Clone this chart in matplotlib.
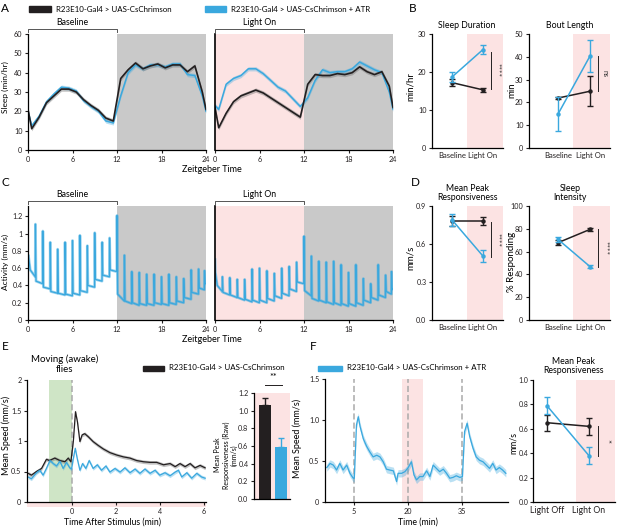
import numpy as np
import matplotlib
matplotlib.use('Agg')
import matplotlib.pyplot as plt
from matplotlib.patches import Rectangle

plt.rcParams['font.family'] = ['Lato', 'DejaVu Sans']
plt.rcParams['axes.linewidth'] = 0.9
plt.rcParams['xtick.major.width'] = 0.8
plt.rcParams['ytick.major.width'] = 0.8
plt.rcParams['xtick.major.size'] = 2.5
plt.rcParams['ytick.major.size'] = 2.5
plt.rcParams['xtick.major.pad'] = 1.5
plt.rcParams['ytick.major.pad'] = 1.5

BLUE = '#3AA8DE'
BLACK = '#231F20'
PINK = '#FCE3E3'
GRAY = '#C9C9C9'
GREEN = '#CFE5C6'

# ---------------- data ----------------
# A: sleep per hour (bin centres + edges)
zt = [0, 0.5, 1.5, 2.5, 3.5, 4.5, 5.5, 6.5, 7.5, 8.5, 9.5, 10.5, 11.5,
      12.5, 13.5, 14.5, 15.5, 16.5, 17.5, 18.5, 19.5, 20.5, 21.5, 22.5, 23.5, 24]
sleep_base_ctrl = [21, 11, 17, 24.5, 28, 31.5, 31.5, 30, 26, 23, 20.5, 16.5, 15,
                   37, 41.5, 45, 42, 43.5, 44.5, 42.5, 44, 44, 40.5, 43.5, 30, 21]
sleep_base_atr = [20, 12.5, 17.5, 25, 29, 32.5, 32, 30.5, 25.5, 22.5, 20, 15, 14,
                  28, 40, 44, 42, 44, 44, 43, 44.5, 44.5, 39, 38.5, 28, 20]
sleep_light_ctrl = [22, 11.5, 19, 25, 28, 29.5, 31, 29.5, 27, 24.5, 22, 19.5, 17,
                    34, 39, 38.5, 38.5, 39.5, 39, 40, 43, 40.5, 39, 40.5, 33, 22]
sleep_light_atr = [23, 21, 34, 37, 38.5, 42, 42, 39.5, 36, 32.5, 30.5, 26.5, 22.5,
                   27, 36, 41.5, 40, 40.5, 40.5, 42, 45.5, 43.5, 41.5, 40, 30, 21]
sleep_sem = 1.1

# B: sleep duration / bout length
groups_b = ['Baseline', 'Light On']
dur_ctrl, dur_ctrl_err = [17.2, 15.3], [0.9, 0.6]
dur_atr, dur_atr_err = [18.7, 25.9], [1.3, 1.2]
bout_ctrl, bout_ctrl_err = [21.9, 24.9], [0.3, 6.6]
bout_atr, bout_atr_err = [14.8, 40.4], [7.5, 7.0]

# C: activity trace, hourly spikes (trough before, peak, value just after)
spike_hours = [1, 2, 3, 4, 5, 6, 7, 8, 9, 10, 11, 12,
               13, 14, 15, 16, 17, 18, 19, 20, 21, 22, 23, 23.8]
act_start_t = [0, 0.05, 0.3]
act_base_start, act_base_end = [0.68, 0.75, 0.58], 0.42
act_base_trough = [0.50, 0.42, 0.36, 0.31, 0.29, 0.28, 0.29, 0.32, 0.38, 0.45, 0.50, 0.56,
                   0.22, 0.19, 0.17, 0.17, 0.17, 0.18, 0.17, 0.18, 0.20, 0.24, 0.30, 0.35]
act_base_peak = [1.11, 1.03, 0.90, 0.82, 0.90, 0.92, 0.98, 0.86, 1.01, 0.90, 0.95, 1.21,
                 0.75, 0.56, 0.55, 0.53, 0.53, 0.50, 0.53, 0.50, 0.48, 0.58, 0.59, 0.57]
act_base_after = [0.45, 0.38, 0.33, 0.31, 0.30, 0.31, 0.34, 0.40, 0.47, 0.52, 0.58, 0.30,
                  0.22, 0.20, 0.19, 0.19, 0.20, 0.19, 0.20, 0.22, 0.26, 0.32, 0.37, 0.42]
act_light_start, act_light_end = [0.70, 0.55, 0.40], 0.36
act_light_trough = [0.33, 0.29, 0.26, 0.23, 0.21, 0.20, 0.20, 0.22, 0.25, 0.28, 0.33, 0.42,
                    0.28, 0.22, 0.20, 0.18, 0.17, 0.16, 0.16, 0.17, 0.20, 0.23, 0.26, 0.30]
act_light_peak = [0.50, 0.49, 0.47, 0.47, 0.59, 0.60, 0.57, 0.54, 0.60, 0.62, 0.67, 0.97,
                  0.74, 0.68, 0.67, 0.68, 0.64, 0.55, 0.64, 0.48, 0.42, 0.64, 0.52, 0.56]
act_light_after = [0.32, 0.29, 0.26, 0.24, 0.23, 0.23, 0.25, 0.28, 0.31, 0.36, 0.44, 0.34,
                   0.25, 0.23, 0.21, 0.20, 0.19, 0.19, 0.20, 0.23, 0.26, 0.29, 0.33, 0.35]

# D: responsiveness / intensity
resp_ctrl, resp_ctrl_err = [0.78, 0.78], [0.04, 0.03]
resp_atr, resp_atr_err = [0.79, 0.505], [0.05, 0.045]
inten_ctrl, inten_ctrl_err = [67.8, 79.5], [2.0, 1.5]
inten_atr, inten_atr_err = [70.8, 46.8], [2.0, 1.5]

# E: moving flies, speed around stimulus
e_t_ctrl = [-1.97, -1.82, -1.59, -1.36, -1.14, -1.0, -0.76, -0.53, -0.3, -0.15, -0.03,
            0.08, 0.18, 0.27, 0.38, 0.48, 0.6, 0.76, 0.98, 1.2, 1.44, 1.74, 2.05, 2.35,
            2.65, 2.95, 3.26, 3.56, 3.86, 4.17, 4.47, 4.7, 4.92, 5.15, 5.38, 5.6, 5.83, 6.06]
e_v_ctrl = [0.47, 0.44, 0.50, 0.55, 0.70, 0.68, 0.72, 0.68, 0.66, 0.72, 0.66,
            0.99, 1.48, 1.31, 0.99, 1.10, 1.12, 1.07, 0.99, 0.93, 0.87, 0.81, 0.77, 0.74,
            0.72, 0.68, 0.66, 0.65, 0.65, 0.61, 0.63, 0.58, 0.63, 0.58, 0.63, 0.56, 0.60, 0.56]
e_t_atr = [-1.97, -1.82, -1.59, -1.44, -1.29, -1.14, -0.98, -0.83, -0.68, -0.53, -0.38,
           -0.23, -0.08, 0.0, 0.08, 0.17, 0.26, 0.38, 0.5, 0.65, 0.8, 0.98, 1.17, 1.36,
           1.56, 1.74, 1.97, 2.2, 2.42, 2.65, 2.88, 3.1, 3.33, 3.56, 3.79, 4.0, 4.24, 4.47,
           4.7, 4.85, 5.0, 5.23, 5.45, 5.68, 5.9, 6.06]
e_v_atr = [0.41, 0.38, 0.48, 0.52, 0.44, 0.55, 0.68, 0.63, 0.59, 0.67, 0.55,
           0.65, 0.56, 0.54, 0.71, 0.88, 0.71, 0.52, 0.63, 0.55, 0.68, 0.55, 0.61, 0.52,
           0.59, 0.49, 0.55, 0.49, 0.56, 0.48, 0.54, 0.47, 0.54, 0.47, 0.52, 0.44, 0.48, 0.43,
           0.49, 0.52, 0.41, 0.48, 0.39, 0.47, 0.41, 0.39]
e_sem = 0.03
bar_vals = [1.06, 0.59]
bar_errs = [0.08, 0.10]

# F: sleeping ATR flies, speed trace
f_t = [-2.5, -1.6, -0.7, 0.2, 1.1, 2.0, 3.0, 3.9, 4.8, 5.1, 5.7, 6.2, 6.7, 7.6, 8.5, 9.4,
       10.3, 11.3, 12.2, 13.1, 14.0, 14.9, 15.9, 16.8, 17.2, 18.2, 19.1, 20.0, 20.9, 21.6,
       22.3, 23.2, 24.1, 25.1, 26.0, 26.9, 27.8, 28.7, 29.7, 30.6, 31.5, 32.4, 33.3, 34.3,
       35.0, 35.6, 36.3, 37.0, 37.9, 38.8, 39.7, 40.7, 41.6, 42.5, 43.4, 44.3, 45.2, 46.1, 47.0]
f_v = [0.42, 0.47, 0.45, 0.39, 0.47, 0.39, 0.45, 0.35, 0.29, 0.29, 0.94, 1.04, 0.92, 0.77,
       0.68, 0.61, 0.55, 0.57, 0.55, 0.49, 0.40, 0.39, 0.38, 0.25, 0.35, 0.35, 0.37, 0.42,
       0.49, 0.33, 0.27, 0.31, 0.31, 0.38, 0.31, 0.45, 0.41, 0.37, 0.40, 0.35, 0.29, 0.30,
       0.32, 0.30, 0.31, 0.86, 0.96, 0.80, 0.66, 0.55, 0.51, 0.49, 0.45, 0.41, 0.47, 0.39,
       0.42, 0.39, 0.35]
f_sem = 0.045
stim_times = [5, 20, 35]
groups_f = ['Light Off', 'Light On']
fresp_ctrl, fresp_ctrl_err = [0.65, 0.62], [0.066, 0.07]
fresp_atr, fresp_atr_err = [0.79, 0.38], [0.072, 0.07]

# ---------------- layout helpers ----------------
W, H = 617, 528
fig = plt.figure(figsize=(W / 100, H / 100), dpi=100)


def add_ax(l, t, r, b):
    return fig.add_axes([l / W, 1 - b / H, (r - l) / W, (b - t) / H])


def ftext(x, y, s, **kw):
    kw.setdefault('ha', 'center')
    kw.setdefault('va', 'center')
    fig.text(x / W, 1 - y / H, s, **kw)


def clean(ax, left=True):
    ax.spines['top'].set_visible(False)
    ax.spines['right'].set_visible(False)
    if not left:
        ax.tick_params(axis='y', left=False, labelleft=False)
    ax.tick_params(labelsize=5.2, colors=BLACK)


def bracket(x0, x1, y, label):
    fig.add_artist(plt.Line2D([x0 / W, x0 / W, x1 / W, x1 / W],
                              [1 - (y + 2.5) / H, 1 - y / H, 1 - y / H, 1 - (y + 2.5) / H],
                              color='#555555', lw=0.7))
    ftext((x0 + x1) / 2, y - 6.5, label, fontsize=6.3)


def legend_patch(x0, x1, y, color, label):
    fig.add_artist(Rectangle((x0 / W, 1 - (y + 2.5) / H), (x1 - x0) / W, 5 / H,
                             color=color, transform=fig.transFigure))
    ftext(x1 + 5, y, label, fontsize=5.7, ha='left')


def paired(ax, xs, ctrl, ctrl_e, atr, atr_e):
    ax.errorbar(xs, ctrl, yerr=ctrl_e, color=BLACK, lw=1.1, marker='o', ms=2.2,
                capsize=2, capthick=1.0, elinewidth=1.0, zorder=3)
    ax.errorbar(xs, atr, yerr=atr_e, color=BLUE, lw=1.1, marker='o', ms=2.2,
                capsize=2, capthick=1.0, elinewidth=1.0, zorder=4)


def sig(ax, x_line, x_txt, y0, y1, txt, size=6):
    ax.plot([x_line, x_line], [y0, y1], color=BLACK, lw=0.7, clip_on=False)
    ax.text(x_txt, (y0 + y1) / 2, txt, rotation=-90, ha='center', va='center',
            fontsize=size, color='#333333', clip_on=False)


def activity(start_t, start_v, hours, trough, peak, after, end):
    t, v = list(start_t), list(start_v)
    for h, a, p, b in zip(hours, trough, peak, after):
        t += [h - 0.02, h, h + 0.08]
        v += [a, p, b]
    t.append(24)
    v.append(end)
    return t, v


# ---------------- A ----------------
a_l = add_ax(28, 34, 206, 150)
a_r = add_ax(215, 34, 393, 150)
for ax, ctrl, atr, light in [(a_l, sleep_base_ctrl, sleep_base_atr, False),
                             (a_r, sleep_light_ctrl, sleep_light_atr, True)]:
    ax.axvspan(12, 24, color=GRAY, lw=0, zorder=0)
    if light:
        ax.axvspan(0, 12, color=PINK, lw=0, zorder=0)
    c = np.array(ctrl)
    b = np.array(atr)
    ax.fill_between(zt, b - sleep_sem, b + sleep_sem, color=BLUE, alpha=0.35, lw=0)
    ax.plot(zt, b, color=BLUE, lw=1.1)
    ax.fill_between(zt, c - sleep_sem, c + sleep_sem, color='#777777', alpha=0.45, lw=0)
    ax.plot(zt, c, color=BLACK, lw=1.2)
    ax.set_xlim(0, 24)
    ax.set_ylim(0, 60)
    ax.set_xticks([0, 6, 12, 18, 24])
    ax.set_yticks([0, 10, 20, 30, 40, 50, 60])
    clean(ax, left=not light)
a_r.spines['left'].set_linewidth(1.2)
ftext(5, 87, 'Sleep (min/hr)', rotation=90, fontsize=6)
ftext(212, 169, 'Zeitgeber Time', fontsize=6.5)
bracket(28, 117, 29, 'Baseline')
bracket(215, 304, 29, 'Light On')
legend_patch(29, 51, 9, BLACK, 'R23E10-Gal4 > UAS-CsChrimson')
legend_patch(205, 226, 9, BLUE, 'R23E10-Gal4 > UAS-CsChrimson + ATR')
ftext(5, 8, 'A', fontsize=8.5)

# ---------------- B ----------------
b1 = add_ax(432, 34, 503, 148)
b2 = add_ax(529, 34, 610, 148)
paired(b1, [0, 1], dur_ctrl, dur_ctrl_err, dur_atr, dur_atr_err)
b1.axvspan(0.48, 1.65, color=PINK, lw=0, zorder=0)
b1.set_xlim(-0.65, 1.65)
b1.set_ylim(0, 30)
b1.set_yticks([0, 10, 20, 30])
sig(b1, 1.26, 1.48, 15.6, 25.3, '****')
paired(b2, [0, 1], bout_ctrl, bout_ctrl_err, bout_atr, bout_atr_err)
b2.axvspan(0.47, 1.62, color=PINK, lw=0, zorder=0)
b2.set_xlim(-0.9, 1.62)
b2.set_ylim(0, 50)
b2.set_yticks([0, 10, 20, 30, 40, 50])
sig(b2, 1.25, 1.47, 24.9, 40.2, 'ns', size=5)
for ax in (b1, b2):
    ax.set_xticks([0, 1])
    ax.set_xticklabels(groups_b)
    clean(ax)
    ax.tick_params(axis='x', length=0, pad=3, labelsize=5.5)
ftext(467, 26, 'Sleep Duration', fontsize=6.3)
ftext(570, 25, 'Bout Length', fontsize=6.3)
ftext(410, 87, 'min/hr', rotation=90, fontsize=7)
ftext(512, 90, 'min', rotation=90, fontsize=7)
ftext(413, 8, 'B', fontsize=8.5)

# ---------------- C ----------------
c_l = add_ax(28, 206, 206, 320)
c_r = add_ax(215, 206, 393, 320)
tb, vb = activity(act_start_t, act_base_start, spike_hours, act_base_trough,
                  act_base_peak, act_base_after, act_base_end)
tl, vl = activity(act_start_t, act_light_start, spike_hours, act_light_trough,
                  act_light_peak, act_light_after, act_light_end)
for ax, t, v, light in [(c_l, tb, vb, False), (c_r, tl, vl, True)]:
    ax.axvspan(12, 24, color=GRAY, lw=0, zorder=0)
    if light:
        ax.axvspan(0, 12, color=PINK, lw=0, zorder=0)
    ax.plot(t, v, color=BLUE, lw=2.0, alpha=0.5)
    ax.plot(t, v, color=BLUE, lw=0.9)
    ax.set_xlim(0, 24)
    ax.set_ylim(0, 1.32)
    ax.set_xticks([0, 6, 12, 18, 24])
    ax.set_yticks([0, 0.2, 0.4, 0.6, 0.8, 1.0, 1.2])
    ax.set_yticklabels(['0', '0.2', '0.4', '0.6', '0.8', '1', '1.2'])
    clean(ax, left=not light)
c_r.spines['left'].set_linewidth(1.2)
ftext(5, 262, 'Activity (mm/s)', rotation=90, fontsize=6)
ftext(212, 340, 'Zeitgeber Time', fontsize=6.5)
bracket(28, 117, 201, 'Baseline')
bracket(215, 304, 201, 'Light On')
ftext(5, 182, 'C', fontsize=8.5)

# ---------------- D ----------------
d1 = add_ax(432, 206, 503, 320)
d2 = add_ax(529, 206, 610, 320)
paired(d1, [0, 1], resp_ctrl, resp_ctrl_err, resp_atr, resp_atr_err)
d1.axvspan(0.48, 1.65, color=PINK, lw=0, zorder=0)
d1.set_xlim(-0.65, 1.65)
d1.set_ylim(0, 0.9)
d1.set_yticks([0, 0.3, 0.6, 0.9])
d1.set_yticklabels(['0.0', '0.3', '0.6', '0.9'])
sig(d1, 1.26, 1.48, 0.495, 0.776, '****')
paired(d2, [0, 1], inten_ctrl, inten_ctrl_err, inten_atr, inten_atr_err)
d2.axvspan(0.47, 1.62, color=PINK, lw=0, zorder=0)
d2.set_xlim(-0.9, 1.62)
d2.set_ylim(0, 100)
d2.set_yticks([0, 20, 40, 60, 80, 100])
sig(d2, 1.25, 1.47, 46.8, 79.5, '****')
for ax in (d1, d2):
    ax.set_xticks([0, 1])
    ax.set_xticklabels(groups_b)
    clean(ax)
    ax.tick_params(axis='x', length=0, pad=3, labelsize=5.5)
ftext(467, 193, 'Mean Peak\nResponsiveness', fontsize=6.3, linespacing=1.0)
ftext(570, 193, 'Sleep\nIntensity', fontsize=6.3, linespacing=1.0)
ftext(410, 258, 'mm/s', rotation=90, fontsize=7)
ftext(511, 262, '% Responding', rotation=90, fontsize=7)
ftext(415, 182, 'D', fontsize=8.5)

# ---------------- E ----------------
e1 = add_ax(27, 380, 206, 502)
e1.axvspan(-1.0, 0, color=GREEN, lw=0, zorder=0)
e1.axvline(0, color='#AAAAAA', lw=1.1, ls=(0, (4, 2)), zorder=1)
ec = np.array(e_v_ctrl)
ea = np.array(e_v_atr)
e1.fill_between(e_t_ctrl, ec - e_sem, ec + e_sem, color='#777777', alpha=0.45, lw=0)
e1.plot(e_t_ctrl, ec, color=BLACK, lw=0.9)
e1.fill_between(e_t_atr, ea - e_sem, ea + e_sem, color=BLUE, alpha=0.35, lw=0)
e1.plot(e_t_atr, ea, color=BLUE, lw=0.9)
e1.set_xlim(-2.02, 6.1)
e1.set_ylim(0, 2)
e1.set_xticks([0, 2, 4, 6])
e1.set_yticks([0, 0.5, 1, 1.5, 2])
e1.set_yticklabels(['0', '0.5', '1', '1.5', '2'])
clean(e1)
e1.add_patch(Rectangle((0, -0.04), 1, 0.04, transform=e1.transAxes, color=PINK,
                       lw=0, clip_on=False))
ftext(6.5, 435, 'Mean Speed (mm/s)', rotation=90, fontsize=6.5)
ftext(113, 522, 'Time After Stimulus (min)', fontsize=6.3)
ftext(65, 364, 'Moving (awake)\nflies', fontsize=7, linespacing=1.1)
legend_patch(143, 164, 368, BLACK, 'R23E10-Gal4 > UAS-CsChrimson')
ftext(5, 347, 'E', fontsize=8.5)

e2 = add_ax(254, 393, 290, 499)
e2.set_facecolor(PINK)
for i, (val, err, col) in enumerate(zip(bar_vals, bar_errs, [BLACK, BLUE])):
    e2.bar(i, val, width=0.75, color=col, zorder=2)
    e2.errorbar(i, val, yerr=[[0], [err]], fmt='none', ecolor=col, capsize=2,
                elinewidth=1.0, capthick=1.0, zorder=3)
e2.set_xlim(-0.69, 1.56)
e2.set_ylim(0, 1.2)
e2.set_yticks([0, 0.2, 0.4, 0.6, 0.8, 1.0, 1.2])
e2.set_yticklabels(['0.0', '0.2', '0.4', '0.6', '0.8', '1.0', '1.2'])
e2.set_xticks([])
clean(e2)
e2.plot([0, 1.06], [1.29, 1.29], color=BLACK, lw=0.7, clip_on=False)
e2.text(0.53, 1.33, '**', ha='center', va='bottom', fontsize=6.5, clip_on=False)
ftext(226, 455, 'Mean Peak\nResponsiveness (Raw)\n(mm/s)', rotation=90, fontsize=5,
      linespacing=1.15)

# ---------------- F ----------------
f1 = add_ax(325, 379, 508, 502)
f1.axvspan(18.3, 24.1, color=PINK, lw=0, zorder=0)
for s in stim_times:
    f1.axvline(s, color='#AAAAAA', lw=1.1, ls=(0, (4, 2)), zorder=1)
fv = np.array(f_v)
f1.fill_between(f_t, fv - f_sem, fv + f_sem, color=BLUE, alpha=0.35, lw=0)
f1.plot(f_t, fv, color=BLUE, lw=0.9)
f1.set_xlim(-3.0, 47.6)
f1.set_ylim(0, 1.5)
f1.set_xticks(stim_times)
f1.set_yticks([0, 0.5, 1.0, 1.5])
f1.set_yticklabels(['0', '0.5', '1.0', '1.5'])
clean(f1)
ftext(297, 438, 'Mean Speed (mm/s)', rotation=90, fontsize=6.5)
ftext(418, 522, 'Time (min)', fontsize=6.3)
legend_patch(318, 342, 368, BLUE, 'R23E10-Gal4 > UAS-CsChrimson + ATR')
ftext(313, 347, 'F', fontsize=8.5)

f2 = add_ax(533, 380, 615, 502)
paired(f2, [0, 1], fresp_ctrl, fresp_ctrl_err, fresp_atr, fresp_atr_err)
f2.axvspan(0.69, 1.62, color=PINK, lw=0, zorder=0)
f2.set_xlim(-0.33, 1.62)
f2.set_ylim(0, 1.0)
f2.set_yticks([0, 0.2, 0.4, 0.6, 0.8, 1.0])
f2.set_yticklabels(['0.0', '0.2', '0.4', '0.6', '0.8', '1.0'])
f2.set_xticks([0, 1])
f2.set_xticklabels(groups_f)
clean(f2)
f2.tick_params(axis='y', labelsize=5.0, pad=1.0)
f2.tick_params(axis='x', length=0, pad=3, labelsize=6.3)
sig(f2, 1.21, 1.40, 0.38, 0.62, '*', size=7)
ftext(574, 366, 'Mean Peak\nResponsiveness', fontsize=6.3, linespacing=1.0)
ftext(513, 443, 'mm/s', rotation=90, fontsize=6.3)

fig.savefig('out.png', dpi=100)
